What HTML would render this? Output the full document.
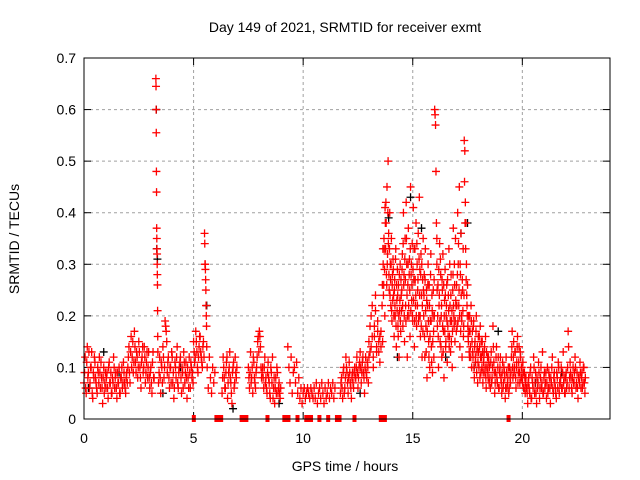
<!DOCTYPE html>
<html><head><meta charset="utf-8"><style>
html,body{margin:0;padding:0;background:#fff;}
svg{display:block;font-family:"Liberation Sans",sans-serif;}
</style></head><body>
<svg id="chart" width="640" height="480" viewBox="0 0 640 480">
<rect width="640" height="480" fill="#fff"/>
<text x="345" y="32" font-size="14" text-anchor="middle" fill="#000">Day 149 of 2021, SRMTID for receiver exmt</text>
<text transform="translate(19,239) rotate(-90)" font-size="14" text-anchor="middle">SRMTID / TECUs</text>
<text x="345" y="471" font-size="14" text-anchor="middle">GPS time / hours</text>
<g id="grid"></g>
<g id="ticks"></g>
<g id="marks"></g>
<rect x="84" y="58" width="526" height="361" fill="none" stroke="#000" stroke-width="1"/>
</svg>
<script>
const xTicks=[0,5,10,15,20];
const yTicks=[0,0.1,0.2,0.3,0.4,0.5,0.6,0.7];
const yTickLabels=["0","0.1","0.2","0.3","0.4","0.5","0.6","0.7"];
const segStart=[0,3.28,3.4,5.0,5.5,5.62,6.3,7.5,8.3,9.3,9.6,10,10.5,11.1,11.7,12.4,13.0,13.6,14.5,15.5,16.0,16.1,17.0,17.6,18.5,19.5,20.2];
const segStep=[0.05,0.006,0.05,0.05,0.01,0.05,0.05,0.05,0.05,0.05,0.05,0.05,0.05,0.05,0.05,0.05,0.05,0.025,0.025,0.025,0.02,0.025,0.025,0.03,0.04,0.035,0.045];
const segValues=[
[.07,.12,.05,.14,.09,.06,.1,.13,.04,.08,.11,.07,.05,.09,.12,.06,.08,.03,.1,.07,.06,.09,.04,.11,.07,.05,.08,.12,.06,.09,.04,.07,.1,.05,.08,.06,.11,.07,.05,.09,.1,.14,.07,.16,.12,.09,.17,.11,.13,.08,.15,.1,.06,.12,.09,.14,.07,.11,.08,.13,.06,.1,.05,.13,.08],
[.66,.645,.6,.555,.48,.44,.37,.35,.33,.32,.3,.28,.26,.21,.16,.13],
[.07,.12,.05,.1,.14,.08,.19,.17,.09,.12,.06,.1,.13,.07,.04,.11,.08,.14,.06,.1,.12,.05,.09,.13,.07,.11,.04,.08,.12,.06,.1,.09],
[.15,.11,.17,.13,.09,.14,.16,.12,.1,.15],
[.36,.34,.3,.3,.29,.27,.25,.22,.2,.18,.14],
[.1,.06,.12,.08,.05,.1,.07,.09],
[.05,.12,.08,.06,.11,.04,.09,.13,.07,.03,.1,.06,.12,.08],
[.1,.06,.13,.08,.05,.11,.07,.09,.12,.16,.17,.14,.08,.1,.06,.12],
[.08,.05,.11,.07,.04,.09,.12,.06,.03,.08,.1,.05,.07,.04],
[.14,.1,.07,.12,.05,.09],
[.1,.07,.11,.05,.08,.04,.06,.03],
[.05,.06,.04,.05,.06,.05,.04,.06,.05,.04],
[.06,.04,.07,.03,.05,.06,.04,.07,.05,.03,.06,.04],
[.05,.07,.04,.06,.05,.07,.04,.06],
[.05,.08,.04,.1,.06,.12,.09,.05,.11,.07,.04,.09,.06,.1],
[.08,.12,.06,.1,.13,.07,.11,.09,.05,.12,.08,.1],
[.12,.18,.14,.22,.1,.16,.24,.13,.19,.15,.11,.17],
[.22,.15,.3,.26,.33,.2,.38,.42,.28,.45,.32,.5,.36,.25,.4,.3,.22,.35,.19,.28,.31,.24,.16,.27,.2,.33,.14,.23,.29,.18,.26,.12,.21,.3,.17,.24],
[.25,.32,.18,.4,.28,.15,.35,.22,.42,.3,.12,.26,.37,.2,.31,.16,.45,.28,.23,.34,.19,.41,.27,.14,.33,.22,.38,.18,.3,.25,.36,.2,.43,.29,.16,.32,.24,.12,.27,.35],
[.2,.28,.12,.33,.18,.25,.08,.22,.3,.15,.26,.1,.19,.32,.14,.24,.09,.2,.17,.27],
[.6,.59,.57,.48,.38,.35],
[.3,.18,.26,.1,.22,.34,.15,.28,.2,.12,.25,.32,.17,.08,.23,.29,.14,.2,.26,.11,.18,.24,.33,.16,.22,.13,.28,.19,.1,.25,.37,.2,.3,.15,.35,.22],
[.26,.18,.4,.3,.22,.45,.14,.28,.36,.2,.12,.25,.33,.18,.54,.52,.42,.38,.3,.22,.26,.16,.2,.13],
[.2,.14,.22,.1,.17,.12,.19,.08,.15,.11,.2,.13,.07,.16,.1,.14,.18,.09,.12,.15,.07,.11,.13,.09,.16,.06,.1,.12,.08,.11],
[.1,.06,.13,.08,.18,.11,.05,.09,.14,.07,.12,.06,.1,.08,.05,.11,.07,.09,.04,.12,.06,.08,.05,.1,.07],
[.12,.17,.08,.15,.1,.13,.06,.11,.16,.09,.14,.07,.12,.1,.08,.11,.06,.09,.05,.08],
[.06,.03,.08,.05,.1,.04,.07,.12,.05,.09,.03,.06,.11,.04,.08,.06,.13,.05,.09,.07,.04,.1,.06,.08,.03,.07,.12,.05,.09,.06,.04,.08,.11,.05,.07,.1,.06,.13,.08,.05,.09,.07,.17,.06,.11,.08,.05,.1,.07,.12,.06,.09,.04,.08,.11,.06,.09,.07,.1,.05]
];
const extraStart=[0.025,3.425,5.025,6.325,7.525,8.325,11.725,12.425,13.0,13.6125,14.5125,15.5125,16.1125,17.0125,17.615,18.52,19.52,20.22];
const extraStep=[0.05,0.05,0.05,0.05,0.05,0.05,0.05,0.05,0.05,0.025,0.025,0.025,0.025,0.025,0.03,0.04,0.035,0.045];
const extraValues=[
[.09,.06,.11,.08,.13,.07,.1,.05,.09,.12,.08,.06,.1,.07,.09,.11,.06,.08,.05,.09,.08,.06,.1,.07,.09,.05,.07,.1,.08,.06,.09,.07,.05,.08,.1,.07,.09,.06,.08,.07,.12,.09,.13,.1,.15,.11,.14,.09,.12,.1,.13,.08,.11,.14,.1,.12,.09,.13,.1,.08,.09,.07,.11,.08],
[.09,.08,.11,.07,.12,.1,.18,.15,.11,.08,.1,.07,.12,.09,.06,.1,.12,.07,.09,.11,.08,.1,.06,.11,.09,.08,.1,.06,.09,.11,.08,.07],
[.13,.12,.15,.1,.12,.16,.13,.11,.14,.12],
[.08,.1,.06,.09,.12,.07,.1,.08,.05,.09,.11,.07,.09,.1],
[.08,.09,.07,.1,.12,.08,.06,.1,.15,.13,.16,.1,.09,.08,.1,.07],
[.06,.09,.08,.05,.1,.07,.04,.08,.06,.05,.09,.06,.05,.06],
[.07,.06,.09,.05,.08,.1,.07,.08,.09,.06,.08,.07,.09,.08],
[.1,.09,.08,.11,.1,.09,.12,.08,.1,.09,.11,.07],
[.15,.13,.2,.16,.12,.18,.21,.14,.17,.13,.16,.14],
[.26,.33,.24,.35,.29,.41,.33,.38,.26,.3,.4,.34,.28,.33,.24,.27,.3,.21,.26,.23,.29,.2,.25,.22,.31,.18,.26,.21,.24,.16,.2,.28,.23,.19,.27,.21],
[.29,.22,.34,.26,.2,.31,.27,.19,.35,.24,.2,.3,.22,.28,.25,.33,.21,.3,.26,.2,.29,.23,.33,.19,.27,.24,.2,.34,.22,.27,.19,.31,.24,.2,.28,.18,.3,.22,.17,.25],
[.24,.16,.27,.21,.13,.23,.17,.26,.19,.12,.22,.16,.28,.19,.11,.21,.15,.25,.12,.2],
[.25,.2,.16,.29,.24,.19,.31,.14,.22,.27,.18,.13,.26,.2,.17,.24,.15,.22,.19,.27,.16,.21,.14,.3,.19,.24,.15,.21,.17,.28,.22,.18,.26,.19,.23,.17],
[.22,.28,.19,.34,.25,.2,.3,.17,.24,.19,.27,.21,.16,.24,.46,.38,.33,.27,.24,.2,.18,.15,.17,.12],
[.17,.12,.19,.15,.13,.18,.1,.14,.12,.17,.09,.14,.11,.13,.16,.08,.12,.15,.1,.13,.09,.12,.14,.1,.08,.13,.1,.09,.12,.07],
[.08,.11,.07,.1,.14,.09,.07,.12,.08,.1,.06,.09,.12,.07,.09,.06,.1,.08,.06,.09,.07,.1,.06,.08,.09],
[.14,.1,.12,.09,.13,.08,.1,.14,.07,.11,.09,.13,.08,.1,.07,.09,.06,.08,.07,.06],
[.05,.07,.06,.09,.04,.08,.06,.1,.07,.05,.08,.07,.09,.06,.1,.07,.05,.08,.06,.09,.07,.05,.09,.06,.08,.1,.06,.08,.07,.05,.09,.06,.1,.07,.08,.06,.09,.07,.05,.08,.06,.1,.14,.08,.09,.06,.08,.07,.09,.1,.07,.06,.08,.07,.09,.08,.06,.1,.07,.08]
];
const blackTimes=[0.2,0.9,1.6,3.3,3.32,3.35,3.6,4.4,5.6,6.8,8.9,12.6,13.9,14.3,14.9,15.4,16.5,17.2,17.5,17.8,18.9,20.6,21.8];
const blackValues=[0.06,0.13,0.09,0.6,0.33,0.31,0.05,0.1,0.22,0.02,0.03,0.05,0.39,0.12,0.43,0.37,0.12,0.36,0.38,0.1,0.17,0.07,0.09];
const gapStart=[4.92,5.95,7.1,8.28,9.05,9.65,10.05,10.65,11.05,11.45,12.25,13.45,19.28];
const gapEnd=[5.02,6.35,7.5,8.38,9.42,9.75,10.45,10.75,11.15,11.75,12.4,13.82,19.38];

const NS="http://www.w3.org/2000/svg";
const X=t=>84+t*(526/24);
const Y=v=>419-v*(361/0.7);
const grid=document.getElementById('grid'),ticks=document.getElementById('ticks'),marks=document.getElementById('marks');
function mk(tag,attrs,parent){const e=document.createElementNS(NS,tag);for(const k in attrs)e.setAttribute(k,attrs[k]);parent.appendChild(e);return e;}
xTicks.forEach(t=>{
  if(t>0){const g=mk('line',{x1:X(t),x2:X(t),y1:58,y2:419,stroke:'#a0a0a0','stroke-dasharray':'3,3'},grid);
  
  }
  const tx=mk('text',{x:X(t),y:443,'font-size':14,'text-anchor':'middle'},ticks);tx.textContent=String(t);
  
  
  mk('line',{x1:X(t),x2:X(t),y1:419,y2:412,stroke:'#000'},ticks);
  mk('line',{x1:X(t),x2:X(t),y1:58,y2:65,stroke:'#000'},ticks);
});
yTicks.forEach((v,i)=>{
  if(v>0&&v<0.7){const g=mk('line',{x1:84,x2:610,y1:Y(v),y2:Y(v),stroke:'#a0a0a0','stroke-dasharray':'3,3'},grid);
  
  }
  const tx=mk('text',{x:76,y:Y(v)+5,'font-size':14,'text-anchor':'end'},ticks);tx.textContent=yTickLabels[i];
  
  
  mk('line',{x1:84,x2:91,y1:Y(v),y2:Y(v),stroke:'#000'},ticks);
  mk('line',{x1:610,x2:603,y1:Y(v),y2:Y(v),stroke:'#000'},ticks);
});
function plus(x,y,c){
  const p=mk('path',{d:`M${x-4},${y}h8M${x},${y-4}v8`,stroke:c,'stroke-width':1.3,fill:'none'},marks);
  
  
}
blackTimes.forEach((t,i)=>plus(X(t),Y(blackValues[i]),'#000'));
segValues.forEach((vals,s)=>vals.forEach((v,j)=>plus(X(segStart[s]+j*segStep[s]),Y(v),'#ff0000')));
extraValues.forEach((vals,s)=>vals.forEach((v,j)=>plus(X(extraStart[s]+j*extraStep[s]),Y(v),'#ff0000')));
gapStart.forEach((t,i)=>{
  const r=mk('rect',{x:X(t),y:415,width:Math.max(4,X(gapEnd[i])-X(t)),height:7,fill:'#ff0000'},marks);
  
  
});
</script>
</body></html>
